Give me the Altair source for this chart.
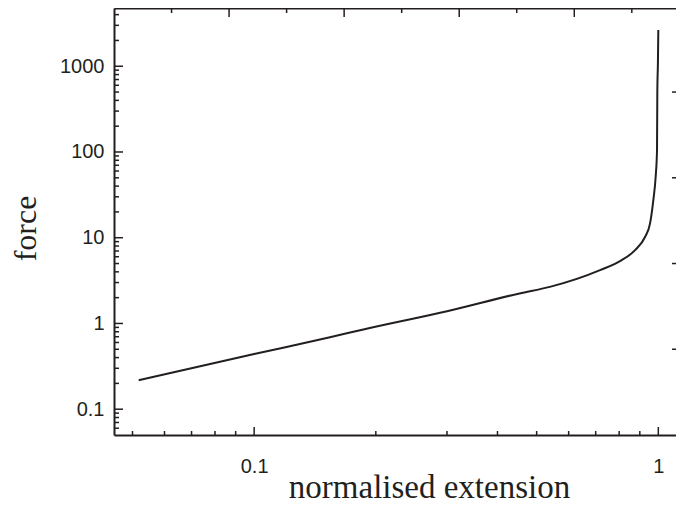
import altair as alt
import pandas as pd

# curve
ext = [0.0518, 0.1, 0.154, 0.1875, 0.3, 0.4535, 0.539, 0.7175, 0.812, 0.876,
       0.927, 0.954, 0.972, 0.985, 0.9926, 0.9943, 0.998, 1.0]
force = [0.218, 0.44, 0.69, 0.858, 1.39, 2.24, 2.67, 4.19, 5.48, 7.16,
         10.2, 14.7, 27.5, 51.4, 105, 483, 1180, 2648]

x_labels = [0.1, 1]
x_minor = [0.05, 0.06, 0.07, 0.08, 0.09, 0.2, 0.3, 0.4, 0.5, 0.6, 0.7, 0.8, 0.9]
y_labels = [0.1, 1, 10, 100, 1000]
y_minor = [0.06, 0.07, 0.08, 0.09,
           0.2, 0.3, 0.4, 0.5, 0.6, 0.7, 0.8, 0.9,
           2, 3, 4, 5, 6, 7, 8, 9,
           20, 30, 40, 50, 60, 70, 80, 90,
           200, 300, 400, 500, 600, 700, 800, 900,
           2000, 3000, 4000]
right_ticks = [0.5, 5, 50, 500]
top_major = [1, 2, 3, 4]
top_minor = [0.5, 1.5, 2.5, 3.5, 4.5]

W, H = 562, 427
INK = "#231f20"

xs = alt.Scale(type="log", domain=[0.045, 1.106])
ys = alt.Scale(type="log", domain=[0.05, 4780])

xaxis = alt.Axis(values=x_labels, format="~g", ticks=False, tickSize=0,
                 labelPadding=21, title="normalised extension",
                 titleX=315, titleY=62, titleAlign="center",
                 titleBaseline="alphabetic", titleFontSize=33)
yaxis = alt.Axis(values=y_labels, format="~g", ticks=False, tickSize=0,
                 labelPadding=10, title="force", titleAngle=270,
                 titleX=-79, titleY=220, titleAlign="center",
                 titleBaseline="alphabetic")

df = pd.DataFrame({"ext": ext, "force": force})

curve = alt.Chart(df).mark_line(color=INK, strokeWidth=2, interpolate="monotone").encode(
    x=alt.X("ext:Q", scale=xs, axis=xaxis),
    y=alt.Y("force:Q", scale=ys, axis=yaxis),
)

def xrule(vals, length):
    return alt.Chart(pd.DataFrame({"ext": vals})).mark_rule(color=INK, strokeWidth=1.5).encode(
        x=alt.X("ext:Q", scale=xs, axis=xaxis),
        y=alt.value(H), y2=alt.value(H - length))

def yrule(vals, x0, x1):
    return alt.Chart(pd.DataFrame({"force": vals})).mark_rule(color=INK, strokeWidth=1.5).encode(
        y=alt.Y("force:Q", scale=ys, axis=yaxis),
        x=alt.value(x0), x2=alt.value(x1))

inner = alt.layer(
    curve,
    xrule(x_labels, 8), xrule(x_minor, 4),
    yrule(y_labels, 0, 9), yrule(y_minor, 0, 5),
    yrule(right_ticks, W - 4, W),
)

ts = alt.Scale(domain=[0, 4.884])
taxis = alt.Axis(orient="top", labels=False, ticks=False, tickSize=0, title=None)

def trule(vals, length):
    return alt.Chart(pd.DataFrame({"top": vals})).mark_rule(color=INK, strokeWidth=1.5).encode(
        x=alt.X("top:Q", scale=ts, axis=taxis),
        y=alt.value(0), y2=alt.value(length))

top = alt.layer(trule(top_major, 9), trule(top_minor, 5))

chart = alt.layer(inner, top).resolve_scale(x="independent").properties(
    width=W, height=H,
    autosize=alt.AutoSizeParams(type="none"),
    padding={"left": 106, "top": 0, "right": 0, "bottom": 68},
).configure_axis(
    grid=False, domainColor=INK, domainWidth=2,
    labelFont="Liberation Sans", labelFontSize=20, labelColor=INK,
    titleFont="Liberation Serif", titleFontSize=32, titleFontWeight="normal", titleColor=INK,
).configure_view(stroke="transparent", strokeWidth=0)

chart.save("out.html", embed_options={"renderer": "svg", "actions": False})
